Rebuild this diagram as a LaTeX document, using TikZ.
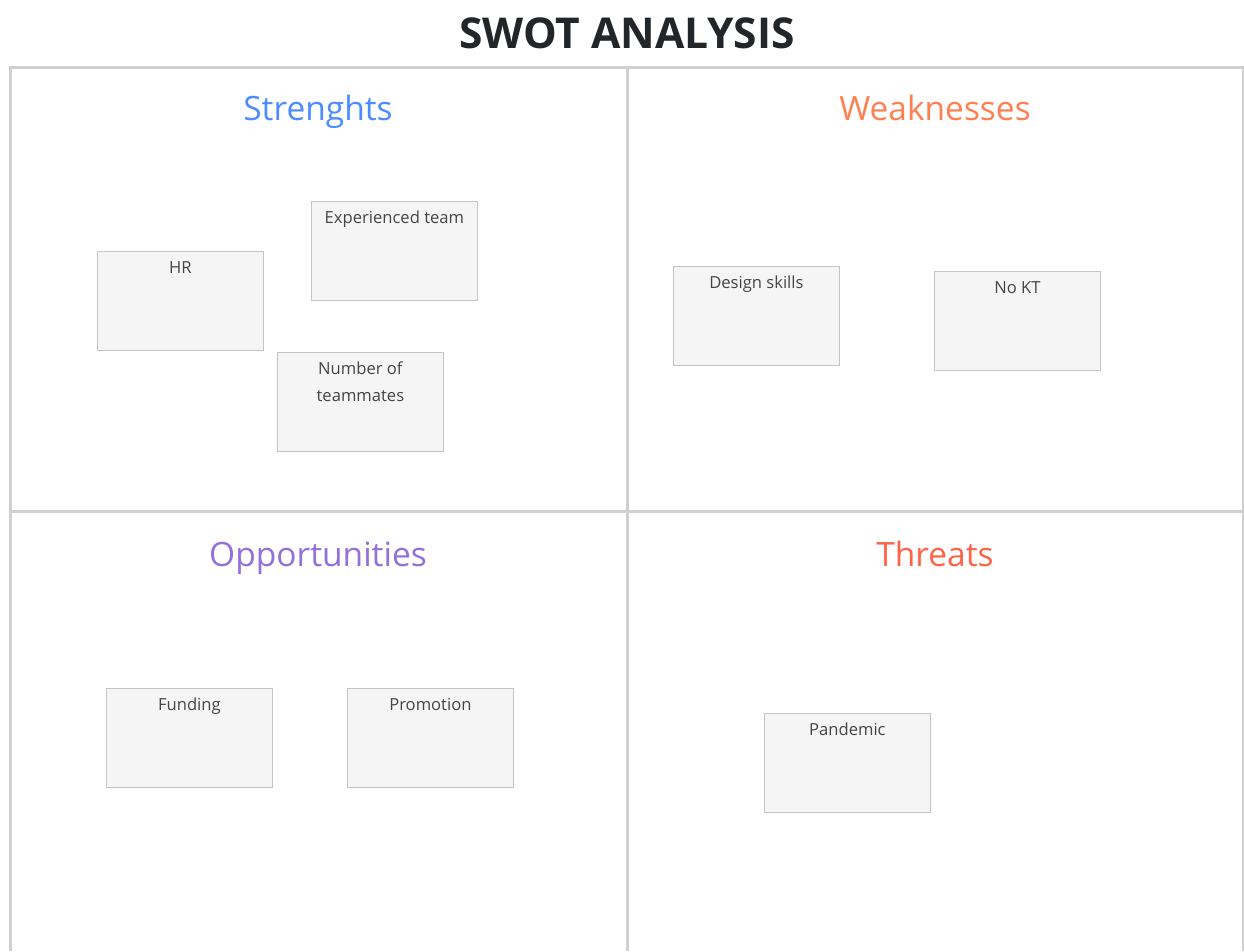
\documentclass[tikz,border=0pt]{standalone}
\usepackage{fontspec}
\setmainfont{Open Sans}
\definecolor{gridline}{HTML}{D0D0D0}
\definecolor{cardfill}{HTML}{F5F5F5}
\definecolor{carddraw}{HTML}{C4C4C4}
\definecolor{cardtext}{HTML}{444444}
\definecolor{titlecol}{HTML}{222629}
\definecolor{strcol}{HTML}{4D8CFF}
\definecolor{weakcol}{HTML}{FF7F50}
\definecolor{oppcol}{HTML}{9370DB}
\definecolor{thrcol}{HTML}{FF6347}
\tikzset{
  grid/.style={draw=gridline, line width=3pt},
  card/.style={draw=carddraw, fill=cardfill, line width=0.8pt, minimum width=166pt, minimum height=99pt, inner sep=0pt, anchor=north west},
  cardlbl/.style={text=cardtext, font=\fontsize{16.6}{27}\selectfont, anchor=base, inner sep=0pt, align=center},
  heading/.style={font=\fontsize{33.5}{38}\selectfont, anchor=base, inner sep=0pt},
}
\begin{document}
\begin{tikzpicture}[x=1pt,y=-1pt]
\useasboundingbox (0,0) rectangle (1244,951);
% title
\node[font=\bfseries\fontsize{42.5}{48}\selectfont, text=titlecol, anchor=base, inner sep=0pt] (title) at (627,48) {SWOT ANALYSIS};
% grid
\coordinate (tl) at (10,67);
\coordinate (tr) at (1243,67);
\coordinate (bl) at (10,951);
\coordinate (br) at (1243,951);
\coordinate (vt) at (627,67);
\coordinate (vb) at (627,951);
\coordinate (hl) at (10,511);
\coordinate (hr) at (1243,511);
\draw[grid] (bl) -- (tl) -- (tr) -- (br);
\draw[grid] (vt) -- (vb);
\draw[grid] (hl) -- (hr);
% headings
\node[heading, text=strcol] (hS) at (318,120) {Strenghts};
\node[heading, text=weakcol] (hW) at (935,120) {Weaknesses};
\node[heading, text=oppcol] (hO) at (318,566) {Opportunities};
\node[heading, text=thrcol] (hT) at (935,566) {Threats};
% cards
\node[card] (cHR) at (97,251) {};
\node[cardlbl] (tHR) at ([yshift=-22pt]cHR.north) {HR};
\node[card] (cExp) at (311,201) {};
\node[cardlbl] (tExp) at ([yshift=-22pt]cExp.north) {Experienced team};
\node[card] (cNum) at (277,352) {};
\node[cardlbl] (tNum) at ([yshift=-49pt]cNum.north) {Number of\\teammates};
\node[card] (cDes) at (673,266) {};
\node[cardlbl] (tDes) at ([yshift=-22pt]cDes.north) {Design skills};
\node[card] (cKT) at (934,271) {};
\node[cardlbl] (tKT) at ([yshift=-22pt]cKT.north) {No KT};
\node[card] (cFund) at (106,688) {};
\node[cardlbl] (tFund) at ([yshift=-22pt]cFund.north) {Funding};
\node[card] (cProm) at (347,688) {};
\node[cardlbl] (tProm) at ([yshift=-22pt]cProm.north) {Promotion};
\node[card] (cPan) at (764,713) {};
\node[cardlbl] (tPan) at ([yshift=-22pt]cPan.north) {Pandemic};
\end{tikzpicture}
\end{document}
